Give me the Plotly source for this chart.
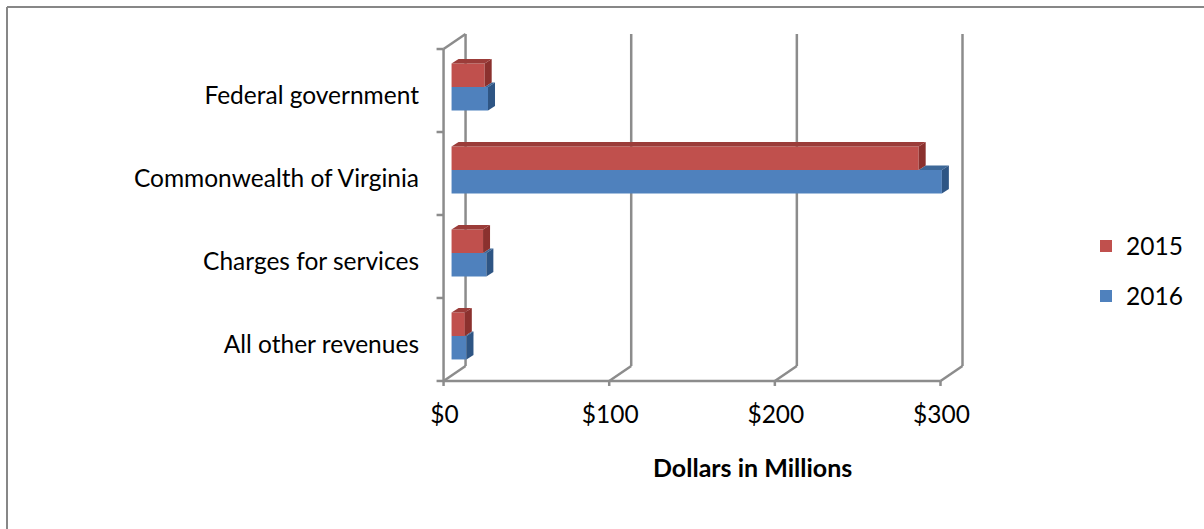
import plotly.graph_objects as go

# ---- data -------------------------------------------------------------
categories = ["All other revenues", "Charges for services",
              "Commonwealth of Virginia", "Federal government"]
values_2015 = [8, 19, 282, 20]
values_2016 = [9, 21, 296, 22]
x_ticks = [0, 100, 200, 300]
x_tick_labels = ["$0", "$100", "$200", "$300"]

# ---- canvas / plot-area geometry ---------------------------------------
W, H = 1204, 529
M_L, M_R, M_T, M_B = 435, 229, 30, 139
X_RANGE = [-10, 316]
Y_RANGE = [-0.651, 3.687]
plot_w = W - M_L - M_R
plot_h = H - M_T - M_B
ppx = plot_w / (X_RANGE[1] - X_RANGE[0])
ppy = plot_h / (Y_RANGE[1] - Y_RANGE[0])


def dx(px):
    return px / ppx


def dy(px):
    return px / ppy


def paper_x(px):
    return (px - M_L) / plot_w


def paper_y(px):
    return (H - M_B - px) / plot_h


FONT = "Lato, 'Open Sans', sans-serif"
FONT_SIZE = 24.5
RED, RED_TOP, RED_SIDE = "#C0504D", "#9B3C39", "#8B312E"
BLUE, BLUE_TOP, BLUE_SIDE = "#4F81BD", "#3D6898", "#2E5584"
GRID = "#8C8C8C"

BAR_GAP = 0.434
bar_h = (1 - BAR_GAP) / 2
BAR_DX, BAR_DY = dx(7), dy(4.5)          # depth of each bar
X_F = dx(-8)                              # front plane offset
X_B = X_F + dx(22)                        # back wall offset
DEPTH_Y = dy(15)
front_edges = [k - 0.5 - dy(3.5) for k in range(len(categories) + 1)]
floor_f = front_edges[0]
top_f = front_edges[-1]
floor_b = floor_f + DEPTH_Y
top_b = top_f + DEPTH_Y

fig = go.Figure()
y_pos = list(range(len(categories)))

# 2016 first so it sits below 2015 in each group
fig.add_bar(y=y_pos, x=values_2016, orientation="h", name="2016",
            marker=dict(color=BLUE, line=dict(width=0)), legend="legend2")
fig.add_bar(y=y_pos, x=values_2015, orientation="h", name="2015",
            marker=dict(color=RED, line=dict(width=0)), legend="legend")


def face(xs, ys, color):
    fig.add_scatter(x=xs + [xs[0]], y=ys + [ys[0]], mode="lines",
                    fill="toself", fillcolor=color, line=dict(width=0, color=color),
                    showlegend=False, hoverinfo="skip")


for k, (r, b) in enumerate(zip(values_2015, values_2016)):
    yt_r, yb_r = k + bar_h, k
    yt_b, yb_b = k, k - bar_h
    # visible part of the lower bar's top face
    if b > r:
        face([r, b, b + BAR_DX, r + BAR_DX],
             [yt_b, yt_b, yt_b + BAR_DY, yt_b + BAR_DY], BLUE_TOP)
    face([b, b, b + BAR_DX, b + BAR_DX],
         [yb_b, yt_b, yt_b + BAR_DY, yb_b + BAR_DY], BLUE_SIDE)
    face([r, r, r + BAR_DX, r + BAR_DX],
         [yb_r, yt_r, yt_r + BAR_DY, yb_r + BAR_DY], RED_SIDE)
    face([0, r, r + BAR_DX, BAR_DX],
         [yt_r, yt_r, yt_r + BAR_DY, yt_r + BAR_DY], RED_TOP)

# ---- 3-D walls and gridlines -----------------------------------------
shapes = []
line = dict(color=GRID, width=2.5)


def seg(x0, y0, x1, y1):
    shapes.append(dict(type="line", xref="x", yref="y", x0=x0, y0=y0,
                       x1=x1, y1=y1, line=line, layer="below"))


for v in x_ticks:
    seg(v + X_B, floor_b, v + X_B, top_b)          # back wall gridline
    seg(v + X_F, floor_f, v + X_B, floor_b)        # floor diagonal
    seg(v + X_F, floor_f, v + X_F, floor_f - dy(5))  # floor tick
seg(X_F, floor_f, x_ticks[-1] + X_F, floor_f)     # front floor edge
seg(X_F, floor_f, X_F, top_f)                       # left wall front edge
seg(X_F, top_f, X_B, top_b)                         # left wall top edge
for e in front_edges:
    seg(X_F - dx(7), e, X_F, e)                     # category ticks

# chart border (top and left edges)
border = dict(color="#878787", width=2)
shapes.append(dict(type="line", xref="paper", yref="paper",
                   x0=paper_x(7), y0=paper_y(7), x1=paper_x(W), y1=paper_y(7),
                   line=border, layer="below"))
shapes.append(dict(type="line", xref="paper", yref="paper",
                   x0=paper_x(7), y0=paper_y(7), x1=paper_x(7), y1=paper_y(H),
                   line=border, layer="below"))

legend_style = dict(xanchor="left", yanchor="middle", font=dict(family=FONT, size=FONT_SIZE),
                    itemwidth=30, bgcolor="rgba(0,0,0,0)", borderwidth=0)

fig.update_layout(
    width=W, height=H,
    margin=dict(l=M_L, r=M_R, t=M_T, b=M_B, autoexpand=False),
    paper_bgcolor="white", plot_bgcolor="white",
    barmode="group", bargap=BAR_GAP, bargroupgap=0,
    hovermode=False,
    shapes=shapes,
    font=dict(family=FONT, size=FONT_SIZE, color="#000000"),
    xaxis=dict(range=X_RANGE, showgrid=False, zeroline=False, showline=False,
               tickvals=x_ticks, ticktext=x_tick_labels, ticks="",
               ticklabelshift=-7, ticklabelstandoff=7,
               tickfont=dict(family=FONT, size=FONT_SIZE)),
    yaxis=dict(range=Y_RANGE, showgrid=False, zeroline=False, showline=False,
               tickvals=y_pos, ticktext=categories, ticks="",
               ticklabelshift=8, ticklabelstandoff=15,
               tickfont=dict(family=FONT, size=FONT_SIZE)),
    legend=dict(x=paper_x(1086), y=paper_y(246), **legend_style),
    legend2=dict(x=paper_x(1086), y=paper_y(296), **legend_style),
    annotations=[dict(text="<b>Dollars in Millions</b>", xref="paper", yref="paper",
                      x=paper_x(752), y=paper_y(467), xanchor="center", yanchor="middle",
                      showarrow=False, font=dict(family=FONT, size=25))],
)

fig.write_html("out.html")
